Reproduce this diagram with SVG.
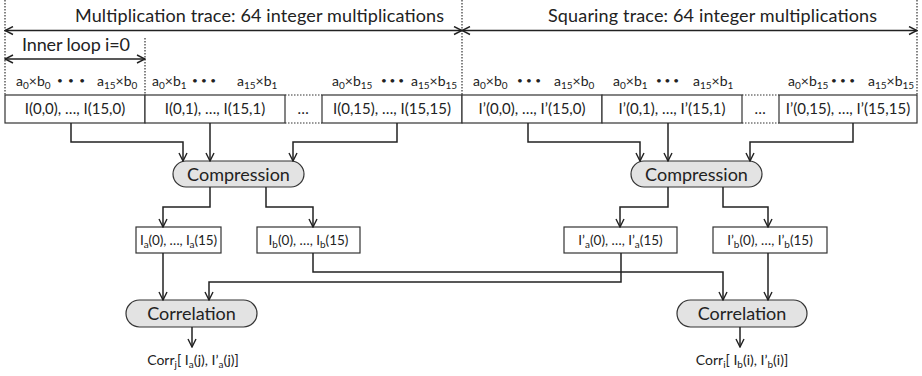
<svg xmlns="http://www.w3.org/2000/svg" width="922" height="376" viewBox="0 0 922 376">
<style>
text{font-family:Lato,"Open Sans","Liberation Sans",sans-serif;fill:#222}
.hdr{font-size:18px}
.lab{font-size:14px}
.dots{font-size:10px}
.bx{font-size:15px}
.bx2{font-size:13.5px}
.pill-t{font-size:18px;text-anchor:middle}
.mid{text-anchor:middle}
.sub{font-size:10px}
.box{fill:#fff;stroke:#333;stroke-width:1.2}
.pill{fill:#e3e3e3;stroke:#333;stroke-width:1.2}
.dot{fill:none;stroke:#333;stroke-width:1.2;stroke-dasharray:1.5 1.5}
.ln{fill:none;stroke:#222;stroke-width:1.5}
.ar{marker-end:url(#ah)}
.dar{marker-start:url(#ah);marker-end:url(#ah)}
</style>
<defs>
<marker id="ah" viewBox="0 0 10 10" refX="9" refY="5" markerWidth="10" markerHeight="10" markerUnits="userSpaceOnUse" orient="auto-start-reverse">
<path d="M1,1 L9,5 L1,9" fill="none" stroke="#222" stroke-width="1.4"/>
</marker>
</defs>

<g id="guides">
<line class="dot" x1="5" y1="0" x2="5" y2="95"/>
<line class="dot" x1="462" y1="0" x2="462" y2="95"/>
<line class="dot" x1="917" y1="0" x2="917" y2="95"/>
<line class="dot" x1="145" y1="38" x2="145" y2="95"/>
</g>

<g id="headers">
<line class="ln dar" x1="5" y1="30.5" x2="462" y2="30.5"/>
<line class="ln dar" x1="462" y1="30.5" x2="917" y2="30.5"/>
<line class="ln dar" x1="5" y1="59" x2="145" y2="59"/>
<text class="hdr" x="75" y="22" textLength="369">Multiplication trace: 64 integer multiplications</text>
<text class="hdr" x="548" y="22" textLength="329">Squaring trace: 64 integer multiplications</text>
<text class="hdr" x="22" y="51" textLength="108">Inner loop i=0</text>
</g>

<g id="labels" class="lab">
<text x="16" y="86">a<tspan class="sub" dy="2.5">0</tspan><tspan dy="-2.5">×b</tspan><tspan class="sub" dy="2.5">0</tspan></text>
<text class="dots" x="57" y="84" textLength="28">•••</text>
<text x="97" y="86">a<tspan class="sub" dy="2.5">15</tspan><tspan dy="-2.5">×b</tspan><tspan class="sub" dy="2.5">0</tspan></text>

<text x="152" y="86">a<tspan class="sub" dy="2.5">0</tspan><tspan dy="-2.5">×b</tspan><tspan class="sub" dy="2.5">1</tspan></text>
<text class="dots" x="192" y="84" textLength="24">•••</text>
<text x="237" y="86">a<tspan class="sub" dy="2.5">15</tspan><tspan dy="-2.5">×b</tspan><tspan class="sub" dy="2.5">1</tspan></text>

<text x="332" y="86">a<tspan class="sub" dy="2.5">0</tspan><tspan dy="-2.5">×b</tspan><tspan class="sub" dy="2.5">15</tspan></text>
<text class="dots" x="381" y="84" textLength="23">•••</text>
<text x="411" y="86">a<tspan class="sub" dy="2.5">15</tspan><tspan dy="-2.5">×b</tspan><tspan class="sub" dy="2.5">15</tspan></text>

<text x="473" y="86">a<tspan class="sub" dy="2.5">0</tspan><tspan dy="-2.5">×b</tspan><tspan class="sub" dy="2.5">0</tspan></text>
<text class="dots" x="517" y="84" textLength="24">•••</text>
<text x="554" y="86">a<tspan class="sub" dy="2.5">15</tspan><tspan dy="-2.5">×b</tspan><tspan class="sub" dy="2.5">0</tspan></text>

<text x="613" y="86">a<tspan class="sub" dy="2.5">0</tspan><tspan dy="-2.5">×b</tspan><tspan class="sub" dy="2.5">1</tspan></text>
<text class="dots" x="656" y="84" textLength="23">•••</text>
<text x="693" y="86">a<tspan class="sub" dy="2.5">15</tspan><tspan dy="-2.5">×b</tspan><tspan class="sub" dy="2.5">1</tspan></text>

<text x="788" y="86">a<tspan class="sub" dy="2.5">0</tspan><tspan dy="-2.5">×b</tspan><tspan class="sub" dy="2.5">15</tspan></text>
<text class="dots" x="831" y="84" textLength="24">•••</text>
<text x="868" y="86">a<tspan class="sub" dy="2.5">15</tspan><tspan dy="-2.5">×b</tspan><tspan class="sub" dy="2.5">15</tspan></text>
</g>

<g id="box-m0"><rect class="box" x="5" y="95" width="140" height="28"/><text class="bx mid" x="75" y="114">I(0,0), …, I(15,0)</text></g>
<g id="box-m1"><rect class="box" x="145" y="95" width="140" height="28"/><text class="bx mid" x="215" y="114">I(0,1), …, I(15,1)</text></g>
<g id="box-mdots"><line class="dot" x1="285" y1="95" x2="322" y2="95"/><line class="dot" x1="285" y1="123" x2="322" y2="123"/><text class="bx mid" x="303" y="114">…</text></g>
<g id="box-m15"><rect class="box" x="322" y="95" width="140" height="28"/><text class="bx mid" x="392" y="114">I(0,15), …, I(15,15)</text></g>
<g id="box-s0"><rect class="box" x="462" y="95" width="140" height="28"/><text class="bx mid" x="532" y="114">I’(0,0), …, I’(15,0)</text></g>
<g id="box-s1"><rect class="box" x="602" y="95" width="140" height="28"/><text class="bx mid" x="672" y="114">I’(0,1), …, I’(15,1)</text></g>
<g id="box-sdots"><line class="dot" x1="742" y1="95" x2="779" y2="95"/><line class="dot" x1="742" y1="123" x2="779" y2="123"/><text class="bx mid" x="760" y="114">…</text></g>
<g id="box-s15"><rect class="box" x="779" y="95" width="138" height="28"/><text class="bx mid" x="848" y="114">I’(0,15), …, I’(15,15)</text></g>

<g id="comp-left"><rect class="pill" x="173" y="161" width="131" height="26" rx="13"/><text class="pill-t" x="238.5" y="180.5">Compression</text></g>
<g id="comp-right"><rect class="pill" x="631" y="161" width="131" height="26" rx="13"/><text class="pill-t" x="696.5" y="180.5">Compression</text></g>

<g id="ia"><rect class="box" x="136" y="227" width="85" height="26"/><text class="bx2" x="140" y="245" textLength="77">I<tspan class="sub" dy="2.5">a</tspan><tspan dy="-2.5">(0), …, I</tspan><tspan class="sub" dy="2.5">a</tspan><tspan dy="-2.5">(15)</tspan></text></g>
<g id="ib"><rect class="box" x="257" y="227" width="103" height="26"/><text class="bx2 mid" x="308.5" y="245">I<tspan class="sub" dy="2.5">b</tspan><tspan dy="-2.5">(0), …, I</tspan><tspan class="sub" dy="2.5">b</tspan><tspan dy="-2.5">(15)</tspan></text></g>
<g id="ipa"><rect class="box" x="564" y="227" width="113" height="26"/><text class="bx2 mid" x="620.5" y="245">I’<tspan class="sub" dy="2.5">a</tspan><tspan dy="-2.5">(0), …, I’</tspan><tspan class="sub" dy="2.5">a</tspan><tspan dy="-2.5">(15)</tspan></text></g>
<g id="ipb"><rect class="box" x="713" y="227" width="114" height="26"/><text class="bx2 mid" x="770" y="245">I’<tspan class="sub" dy="2.5">b</tspan><tspan dy="-2.5">(0), …, I’</tspan><tspan class="sub" dy="2.5">b</tspan><tspan dy="-2.5">(15)</tspan></text></g>

<g id="corr-left"><rect class="pill" x="126" y="300" width="131" height="27" rx="13.5"/><text class="pill-t" x="191.5" y="320">Correlation</text></g>
<g id="corr-right"><rect class="pill" x="677" y="300" width="130" height="27" rx="13.5"/><text class="pill-t" x="742" y="320">Correlation</text></g>

<g id="out-left"><text class="lab mid" x="193" y="365">Corr<tspan class="sub" dy="2.5">j</tspan><tspan dy="-2.5">[ I</tspan><tspan class="sub" dy="2.5">a</tspan><tspan dy="-2.5">(j), I’</tspan><tspan class="sub" dy="2.5">a</tspan><tspan dy="-2.5">(j)]</tspan></text></g>
<g id="out-right"><text class="lab mid" x="742" y="365">Corr<tspan class="sub" dy="2.5">i</tspan><tspan dy="-2.5">[ I</tspan><tspan class="sub" dy="2.5">b</tspan><tspan dy="-2.5">(i), I’</tspan><tspan class="sub" dy="2.5">b</tspan><tspan dy="-2.5">(i)]</tspan></text></g>

<g id="connectors">
<polyline class="ln ar" points="71,123 71,142 183,142 183,161"/>
<polyline class="ln ar" points="210,123 210,161"/>
<polyline class="ln ar" points="397,123 397,142 293,142 293,161"/>
<polyline class="ln ar" points="528,123 528,142 640,142 640,161"/>
<polyline class="ln ar" points="668,123 668,161"/>
<polyline class="ln ar" points="853,123 853,142 750,142 750,161"/>

<polyline class="ln ar" points="210,187 210,207 163,207 163,227"/>
<polyline class="ln ar" points="266,187 266,207 313,207 313,227"/>
<polyline class="ln ar" points="668,187 668,207 620,207 620,227"/>
<polyline class="ln ar" points="723,187 723,207 768,207 768,227"/>

<polyline class="ln ar" points="163,253 163,300"/>
<polyline class="ln ar" points="621,253 621,282 209,282 209,300"/>
<polyline class="ln ar" points="313,253 313,272 723,272 723,300"/>
<polyline class="ln ar" points="768,253 768,300"/>

<polyline class="ln ar" points="192,327 192,347"/>
<polyline class="ln ar" points="740,327 740,347"/>
</g>
</svg>
